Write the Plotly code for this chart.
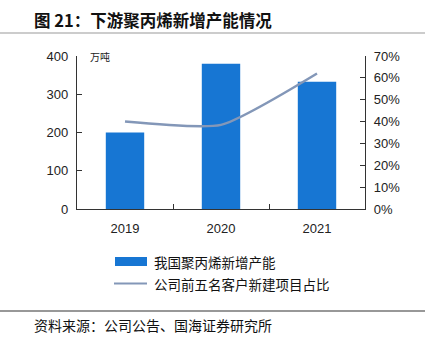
import plotly.graph_objects as go

years = ["2019", "2020", "2021"]
capacity = [200, 380, 333]          # 万吨
share = [0.40, 0.385, 0.62]         # 公司前五名客户新建项目占比
bar_name = "我国聚丙烯新增产能"
line_name = "公司前五名客户新建项目占比"
title_text = "图 21：下游聚丙烯新增产能情况"
source_text = "资料来源：公司公告、国海证券研究所"
unit_text = "万吨"

W, H = 425, 340
L, R, T, B = 77, 365, 56, 209


def px(x):
    return (x - L) / (R - L)


def py(y):
    return (B - y) / (B - T)


fig = go.Figure()
fig.add_trace(go.Bar(x=years, y=capacity, name=bar_name, marker_color="#1776D3",
                     marker_line_width=0, width=0.4, showlegend=False))
fig.add_trace(go.Scatter(x=years, y=share, name=line_name, yaxis="y2", mode="lines",
                         line=dict(color="#8397B8", width=2.5, shape="spline", smoothing=0.55),
                         showlegend=False))

tickfont = dict(family="Liberation Sans, Arial, sans-serif", size=13, color="#222")
cjk = "Noto Sans CJK SC"

fig.update_layout(
    width=W, height=H,
    margin=dict(l=L, r=W - R, t=T, b=H - B, pad=0),
    paper_bgcolor="white", plot_bgcolor="white",
    xaxis=dict(type="category", showline=True, linecolor="#333", linewidth=1.3,
               ticks="inside", ticklen=5, tickcolor="#333", tickson="boundaries",
               tickfont=tickfont, showgrid=False, zeroline=False, ticklabelstandoff=7),
    yaxis=dict(range=[0, 400], tickvals=[0, 100, 200, 300, 400], showline=True,
               linecolor="#333", linewidth=1.3, ticks="inside", ticklen=5, tickcolor="#333",
               tickfont=tickfont, showgrid=False, zeroline=False, ticklabelstandoff=5),
    yaxis2=dict(range=[0, 0.7], tickvals=[i / 10 for i in range(8)], tickformat=".0%",
                overlaying="y", side="right", showline=True, linecolor="#333", linewidth=1.3,
                ticks="inside", ticklen=5, tickcolor="#333", tickfont=tickfont,
                showgrid=False, zeroline=False, ticklabelstandoff=5),
    bargap=0.6,
)

shapes = [
    dict(type="line", xref="paper", yref="paper", x0=px(0), x1=px(W), y0=py(33), y1=py(33),
         line=dict(color="#9a9a9a", width=1.2)),
    dict(type="line", xref="paper", yref="paper", x0=px(0), x1=px(W), y0=py(311), y1=py(311),
         line=dict(color="#333", width=1.2)),
    dict(type="rect", xref="paper", yref="paper", x0=px(115), x1=px(147), y0=py(266), y1=py(257),
         fillcolor="#1776D3", line=dict(width=0)),
    dict(type="line", xref="paper", yref="paper", x0=px(114), x1=px(147), y0=py(283.5), y1=py(283.5),
         line=dict(color="#8397B8", width=2)),
]
annotations = [
    dict(text=f"<b>{title_text}</b>", xref="paper", yref="paper", x=px(32), y=py(20),
         xanchor="left", yanchor="middle", showarrow=False,
         font=dict(family=cjk, size=16.5, color="#111")),
    dict(text=unit_text, xref="paper", yref="paper", x=px(88), y=py(56),
         xanchor="left", yanchor="middle", showarrow=False,
         font=dict(family=cjk, size=10, color="#222")),
    dict(text=bar_name, xref="paper", yref="paper", x=px(152), y=py(262),
         xanchor="left", yanchor="middle", showarrow=False,
         font=dict(family=cjk, size=13.5, color="#111")),
    dict(text=line_name, xref="paper", yref="paper", x=px(152), y=py(284),
         xanchor="left", yanchor="middle", showarrow=False,
         font=dict(family=cjk, size=13.5, color="#111")),
    dict(text=source_text, xref="paper", yref="paper", x=px(32), y=py(325),
         xanchor="left", yanchor="middle", showarrow=False,
         font=dict(family=cjk, size=14, color="#111")),
]
fig.update_layout(shapes=shapes, annotations=annotations)

fig.write_html("out.html")
